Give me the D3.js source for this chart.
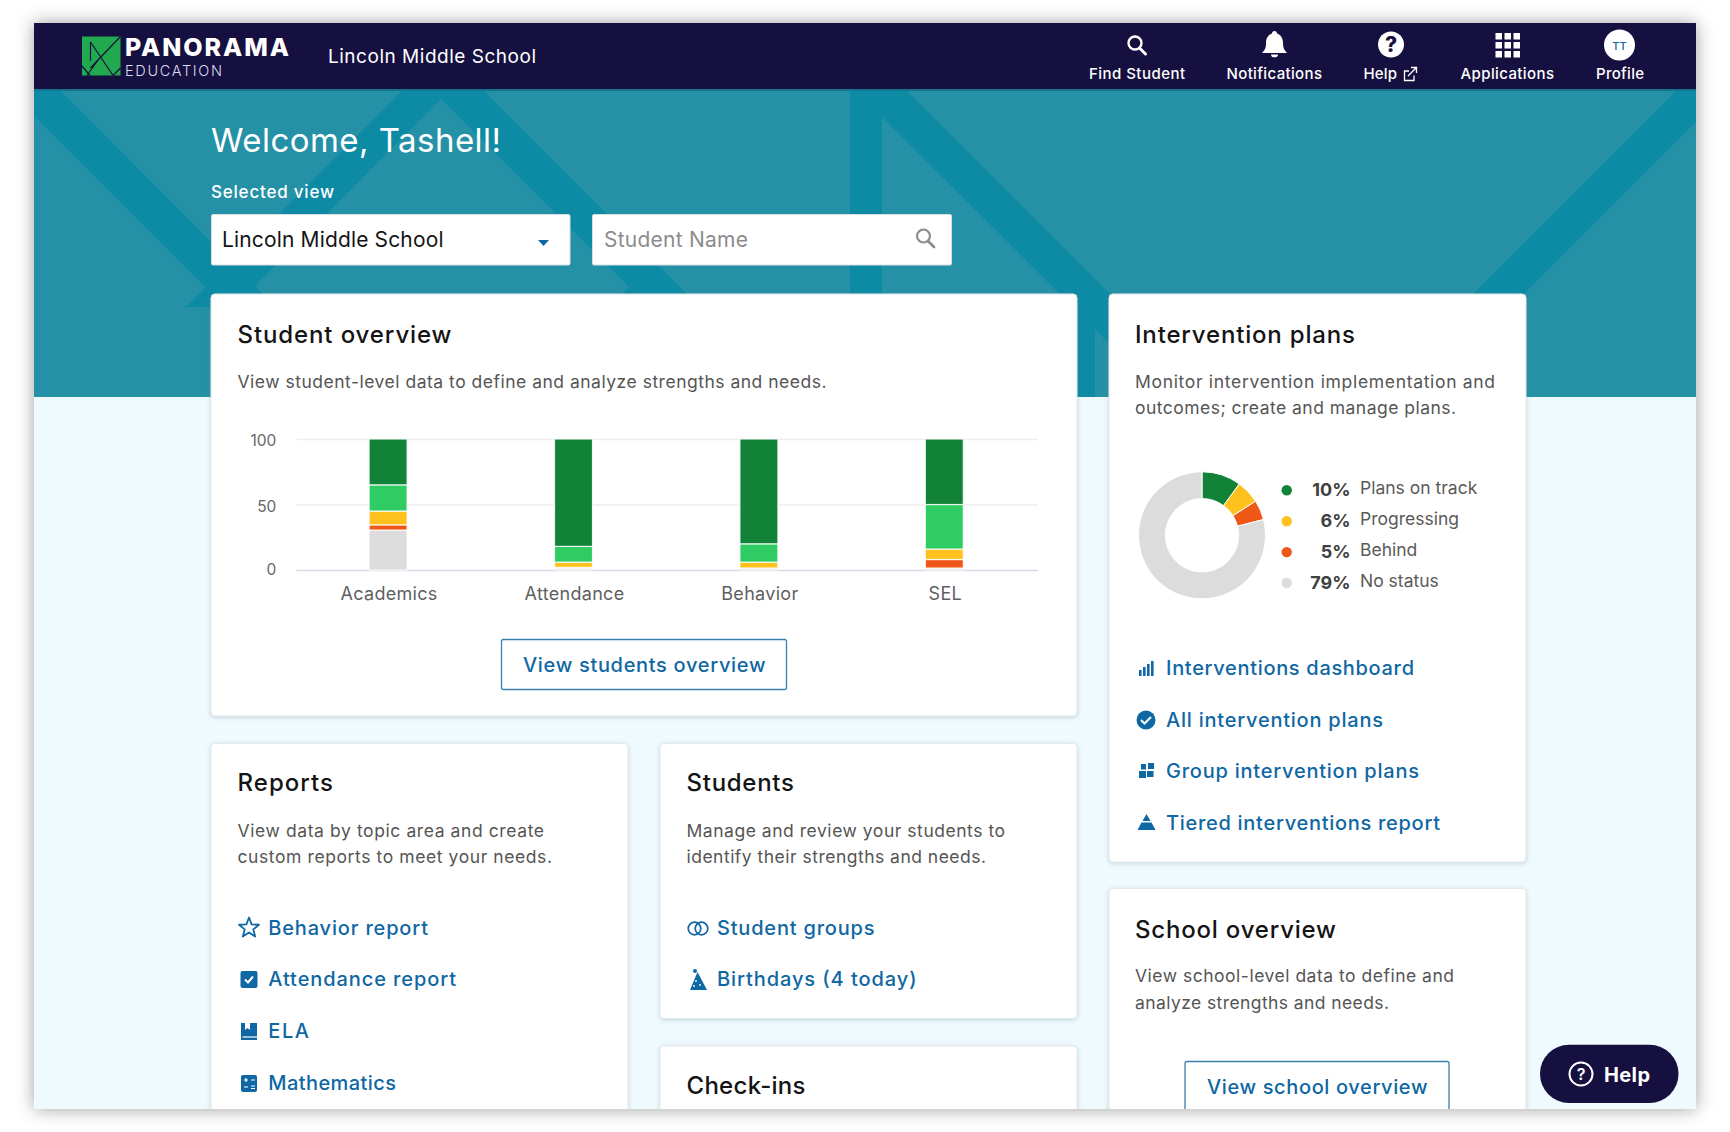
<!DOCTYPE html>
<html><head><meta charset="utf-8">
<script src="https://d3js.org/d3.v7.min.js"></script>
<style>html,body{margin:0;padding:0;background:#fff;overflow:hidden}svg{display:block}text{font-family:Inter,"Open Sans",sans-serif}</style>
</head><body><svg id="page" width="1730" height="1132" viewBox="0 0 1730 1132"></svg>
<script>
// ---- chart data ----
const categories = ["Academics", "Attendance", "Behavior", "SEL"];
const seriesKeys = ["noStatus", "behind", "progressing", "nearTrack", "onTrack"];
const onTrack     = [35, 82, 80, 50];
const nearTrack   = [20, 12, 14, 34];
const progressing = [10.5, 4, 4.5, 8];
const behind      = [4, 0.5, 0, 6.5];
const noStatus    = [30.5, 1.5, 1.5, 1.5];
const yTicks = [0, 50, 100];
const planLabels = ["Plans on track", "Progressing", "Behind", "No status"];
const planValues = [10, 6, 5, 79];
const seriesColors = {onTrack:"#118237", nearTrack:"#2ecc62", progressing:"#fec11e", behind:"#ef5716", noStatus:"#dcdcdc"};
const planColors = ["#118237", "#fec11e", "#ef5716", "#dcdcdc"];

const NAVY="#15103f", BLUE="#0f67a3", INK="#141414", BODY="#555555";
const svg = d3.select("#page");
const defs = svg.append("defs");
const sh = defs.append("filter").attr("id","frameShadow").attr("x","-5%").attr("y","-5%").attr("width","110%").attr("height","110%");
sh.append("feDropShadow").attr("dx",0).attr("dy",0).attr("stdDeviation",9).attr("flood-color","#000").attr("flood-opacity",.38);
const cs = defs.append("filter").attr("id","cardShadow").attr("x","-5%").attr("y","-5%").attr("width","110%").attr("height","110%");
cs.append("feDropShadow").attr("dx",0).attr("dy",1).attr("stdDeviation",2).attr("flood-color","#5a7a88").attr("flood-opacity",.3);
defs.append("clipPath").attr("id","frameClip").append("rect").attr("x",34).attr("y",23).attr("width",1662).attr("height",1086);

svg.append("rect").attr("x",34).attr("y",23).attr("width",1662).attr("height",1086).attr("fill","#eefafd").attr("filter","url(#frameShadow)");
const root = svg.append("g").attr("clip-path","url(#frameClip)");

function T(g,x,y,s,size,color,o){ o=o||{};
  const t=g.append("text").attr("x",x).attr("y",y).text(s).attr("font-size",size).attr("fill",color)
    .attr("font-weight",o.w||400).attr("text-anchor",o.a||"start");
  if(o.r!=null){t.attr("textLength",o.r-x).attr("lengthAdjust","spacing");}
  return t;}
function poly(g,pts,fill){return g.append("path").attr("d",d3.line()(pts)+"Z").attr("fill",fill);}

// ---- header band ----
root.append("rect").attr("x",34).attr("y",89).attr("width",1662).attr("height",308).attr("fill","#2591a6");
const TD="#0d8ba5";
const bands=root.append("g");
poly(bands,[[34,90],[60,90],[420,452],[370,452],[34,116]],TD);
poly(bands,[[403,90],[483,90],[700,307],[609,307],[629,287],[441,99],[254,287],[274,307],[186,307]],TD);
bands.append("rect").attr("x",850).attr("y",89).attr("width",32).attr("height",308).attr("fill",TD);
poly(bands,[[882,90],[906,90],[1213,397],[1163,397],[882,117]],TD);
poly(bands,[[1677,90],[1696,90],[1696,122],[1421,397],[1370,397]],TD);
bands.append("rect").attr("x",1076).attr("y",293).attr("width",19).attr("height",104).attr("fill",TD);
root.append("rect").attr("x",34).attr("y",397).attr("width",1662).attr("height",712).attr("fill","#eefafd");

// ---- navbar ----
root.append("rect").attr("x",34).attr("y",88).attr("width",1662).attr("height",3).attr("fill","#15758e");
root.append("rect").attr("x",34).attr("y",23).attr("width",1662).attr("height",66).attr("fill",NAVY);
const logo=root.append("g");
logo.append("rect").attr("x",82).attr("y",36.500).attr("width",38.500).attr("height",39).attr("fill","#22a94f");
[[[120.500,36.500],[98,60]],[[90.500,42],[90.500,61]],[[90.500,42],[113,75.500]],[[98,60],[90.500,68]],[[98,60],[87,75.500]],[[82,66],[90,75.500]],[[113,75.500],[120.500,68]]].forEach(l=>
  logo.append("path").attr("d",d3.line()(l)).attr("stroke",NAVY).attr("stroke-width",1.200).attr("fill","none"));
T(root,125,55.500,"PANORAMA",25,"#fff",{w:800,r:289});
T(root,125,75.500,"EDUCATION",14.500,"#dcdcf0",{w:300,r:222});
T(root,328,62.500,"Lincoln Middle School",19,"#fff",{w:400,r:536});

const navItems=[["Find Student",1089,1185],["Notifications",1226.500,1322],["Help",1363.500,1397],["Applications",1460.500,1554],["Profile",1596,1644]];
navItems.forEach(d=>T(root,d[1],79.300,d[0],15,"#fff",{w:500,r:d[2]}));
const searchIcon=(g,cx,cy,c,sw)=>{g.append("circle").attr("cx",cx-1.500).attr("cy",cy-2).attr("r",6.500).attr("fill","none").attr("stroke",c).attr("stroke-width",sw);
  g.append("path").attr("d",`M${cx+3} ${cy+3}L${cx+9} ${cy+9}`).attr("stroke",c).attr("stroke-width",sw+.600).attr("stroke-linecap","round");};
searchIcon(root,1136.500,45,"#fff",2.400);
root.append("path").attr("d","M1274.500 31c1.500 0 2.500 1 2.500 2.500 5 2 6 6 6 10 0 4 1 6.500 4 9.500h-25c3-3 4-5.500 4-9.500 0-4 1-8 6-10 0-1.500 1-2.500 2.500-2.500zM1271 54.500h7c0 2-1.500 2.800-3.500 2.800s-3.500-.8-3.500-2.800z").attr("fill","#fff");
root.append("circle").attr("cx",1391).attr("cy",44.500).attr("r",13).attr("fill","#fff");
T(root,1391,52,"?",21,NAVY,{w:800,a:"middle"});
root.append("path").attr("d","M1409 71h-4.500v9.500h9.500v-5M1408 76l8-8M1411 67.500h5.500v5.500").attr("fill","none").attr("stroke","#fff").attr("stroke-width",1.300);
d3.range(3).forEach(i=>d3.range(3).forEach(j=>root.append("rect").attr("x",1495.500+i*9).attr("y",33+j*9).attr("width",6.500).attr("height",6.500).attr("fill","#fff")));
root.append("circle").attr("cx",1619.500).attr("cy",45).attr("r",15.500).attr("fill","#fff");
T(root,1619.500,49.500,"TT",11,BLUE,{w:500,a:"middle"});

// ---- welcome + inputs ----
T(root,211,151.500,"Welcome, Tashell!",33,"#fff",{w:400,r:501});
T(root,211,198,"Selected view",17,"#fff",{w:500,r:334});
[[211.500,358.500],[592.500,359]].forEach(b=>root.append("rect").attr("x",b[0]).attr("y",214.500).attr("width",b[1]).attr("height",50.500).attr("rx",1.500).attr("fill","#fff").attr("stroke","#d8dde0"));
T(root,222,246.500,"Lincoln Middle School",21,INK,{r:443.500});
poly(root,[[538,240],[549,240],[543.500,246]],BLUE);
T(root,604,246.500,"Student Name",21,"#8c8c8c",{r:748});
searchIcon(root,925,238,"#8c8c8c",2.200);

// ---- cards ----
function card(x,y,w,h){root.append("rect").attr("x",x).attr("y",y).attr("width",w).attr("height",h).attr("rx",4).attr("fill","#fff").attr("stroke","#e2e8ec").attr("filter","url(#cardShadow)");}
card(211,294,866,422);
card(1109,294,417,568);
card(211,743.500,417,500);
card(660,743.500,417,275);
card(660,1046,417,200);
card(1109,888.500,417,400);

const titles=[["Student overview",237.500,343,451.500],["Intervention plans",1135,343,1355],["Reports",237.500,791,333],["Students",686.500,791,794],["Check-ins",686.500,1093.500,805.500],["School overview",1135,938,1336]];
titles.forEach(d=>T(root,d[1],d[2],d[0],24,INK,{w:500,r:d[3]}));
const body=[["View student-level data to define and analyze strengths and needs.",237.500,387.600,826.500],
 ["Monitor intervention implementation and",1135,387.600,1495],["outcomes; create and manage plans.",1135,414.300,1456],
 ["View data by topic area and create",237.500,836.700,544],["custom reports to meet your needs.",237.500,863,552],
 ["Manage and review your students to",686.500,836.700,1005],["identify their strengths and needs.",686.500,863,986],
 ["View school-level data to define and",1135,982,1454],["analyze strengths and needs.",1135,1009,1389]];
body.forEach(d=>T(root,d[1],d[2],d[0],17.500,BODY,{r:d[3]}));

const links=[["Interventions dashboard",1166,674.800,1414],["All intervention plans",1166,726.800,1383],["Group intervention plans",1166,778,1419],["Tiered interventions report",1166,830,1440],
 ["Behavior report",268.300,934.800,428],["Attendance report",268.300,986.400,456],["ELA",268.300,1038,309],["Mathematics",268.300,1089.800,396],
 ["Student groups",717,934.800,874.500],["Birthdays (4 today)",717,986.400,916.500]];
links.forEach(d=>T(root,d[1],d[2],d[0],20,BLUE,{w:500,r:d[3]}));

// ---- link icons ----
[[0,6],[1,9],[2,12],[3,15]].forEach(b=>root.append("rect").attr("x",1139+b[0]*4).attr("y",676-b[1]).attr("width",2.600).attr("height",b[1]).attr("fill",BLUE));
root.append("circle").attr("cx",1146).attr("cy",720).attr("r",9.500).attr("fill",BLUE);
root.append("path").attr("d","M1141 720l3.500 3.500 6.500-6.500").attr("fill","none").attr("stroke","#fff").attr("stroke-width",2);
[[1139,771,7,7],[1147,771,6.500,6],[1148,763,6,6],[1141,764,5,5.500]].forEach(r=>root.append("rect").attr("x",r[0]).attr("y",r[1]).attr("width",r[2]).attr("height",r[3]).attr("fill",BLUE));
poly(root,[[1146.500,814],[1150.500,821],[1142.500,821]],BLUE);
poly(root,[[1141.500,822.500],[1151.500,822.500],[1155.500,830],[1137.500,830]],BLUE);
const star=d3.range(10).map(i=>{const a=-Math.PI/2+i*Math.PI/5,r=i%2?4.500:10.500;return [249+r*Math.cos(a),928+r*Math.sin(a)];});
poly(root,star,"none").attr("stroke",BLUE).attr("stroke-width",1.800).attr("stroke-linejoin","round");
root.append("rect").attr("x",240.500).attr("y",971).attr("width",17).attr("height",17).attr("rx",2).attr("fill",BLUE);
root.append("path").attr("d","M245 979.500l3 3 5-6").attr("fill","none").attr("stroke","#fff").attr("stroke-width",2);
root.append("path").attr("d","M241 1023h4v7l2.500-2 2.500 2v-7h7v17h-16z").attr("fill",BLUE);
root.append("path").attr("d","M242.500 1037h14.500").attr("stroke","#fff").attr("stroke-width",1.200);
root.append("rect").attr("x",241).attr("y",1075).attr("width",16).attr("height",17).attr("rx",2).attr("fill",BLUE);
root.append("path").attr("d","M244 1080h4M246 1078v4M251 1080h4M244 1087h4M251 1086h4M251 1088.500h4").attr("stroke","#fff").attr("stroke-width",1.200);
[694.500,701.500].forEach(c=>root.append("circle").attr("cx",c).attr("cy",928.500).attr("r",6.300).attr("fill","none").attr("stroke",BLUE).attr("stroke-width",1.700));
poly(root,[[697.500,972],[707,990],[690,990]],BLUE);
root.append("circle").attr("cx",695).attr("cy",971).attr("r",2).attr("fill",BLUE);
[[696,981],[700,985],[694,986]].forEach(c=>root.append("circle").attr("cx",c[0]).attr("cy",c[1]).attr("r",.900).attr("fill","#fff"));

// ---- stacked bar chart ----
const rows=categories.map((c,i)=>({cat:c,onTrack:onTrack[i],nearTrack:nearTrack[i],progressing:progressing[i],behind:behind[i],noStatus:noStatus[i]}));
const x=d3.scaleBand().domain(categories).range([295.400,1037]).paddingInner(.795).paddingOuter(.3975);
const y=d3.scaleLinear().domain([0,100]).range([570,439]);
const chart=root.append("g");
const gy=chart.append("g").attr("transform","translate(296.400,0)").call(d3.axisLeft(y).tickValues(yTicks).tickSize(-741.600).tickPadding(20));
gy.select(".domain").remove();
gy.selectAll(".tick line").attr("stroke",d=>d===0?"#d6dae8":"#eeeeee").attr("stroke-width",1.700);
gy.selectAll(".tick text").attr("font-size",15.500).attr("fill","#666").attr("dy",d=>d===0?"0.32em":"0.42em");
chart.selectAll("g.series").data(d3.stack().keys(seriesKeys)(rows)).join("g").attr("class","series").attr("fill",s=>seriesColors[s.key])
  .selectAll("rect").data(s=>s).join("rect")
  .attr("x",d=>x(d.data.cat)).attr("width",x.bandwidth())
  .attr("y",d=>y(d[1])).attr("height",d=>Math.max(0,y(d[0])-y(d[1])))
  .attr("stroke","#fff").attr("stroke-width",1.200).attr("stroke-opacity",.85);
const gx=chart.append("g").attr("transform","translate(1,570)").call(d3.axisBottom(x).tickSize(0).tickPadding(17));
gx.select(".domain").remove();
gx.selectAll(".tick text").attr("font-size",18).attr("letter-spacing",.3).attr("fill","#5f5f5f");

const btn=(bx,by,bw,bh,s,tx,ty,tr)=>{root.append("rect").attr("x",bx).attr("y",by).attr("width",bw).attr("height",bh).attr("rx",2).attr("fill","#fff").attr("stroke","#3a80ad").attr("stroke-width",1.300);
  T(root,tx,ty,s,20,BLUE,{w:500,r:tr});};
btn(501.500,639.500,285,50,"View students overview",523,671.500,765.500);
btn(1185,1061.500,264,60,"View school overview",1207,1094,1427.500);

// ---- donut ----
const pie=d3.pie().sort(null)(planValues);
const arc=d3.arc().innerRadius(36.700).outerRadius(63.500);
root.append("g").attr("transform","translate(1202,535.300)").selectAll("path").data(pie).join("path")
  .attr("d",arc).attr("fill",(d,i)=>planColors[i]).attr("stroke","#fff").attr("stroke-width",1);
const legendY=d3.scalePoint().domain(planLabels).range([490.300,583]);
planLabels.forEach((l,i)=>{const ly=legendY(l);
  root.append("circle").attr("cx",1286.700).attr("cy",ly).attr("r",5.200).attr("fill",planColors[i]);
  T(root,1350.500,ly+6,planValues[i]+"%",18,"#404040",{w:700,a:"end"});
  T(root,1360,ly+4,l,17.500,"#5a5a5a");});

// ---- floating help ----
root.append("rect").attr("x",1540).attr("y",1044.700).attr("width",138.500).attr("height",58.300).attr("rx",29).attr("fill",NAVY);
root.append("circle").attr("cx",1581).attr("cy",1074).attr("r",11.500).attr("fill","none").attr("stroke","#fff").attr("stroke-width",2);
T(root,1581,1080,"?",16,"#fff",{w:600,a:"middle"});
T(root,1604,1081.500,"Help",20,"#fff",{w:700,r:1650});
</script></body></html>
